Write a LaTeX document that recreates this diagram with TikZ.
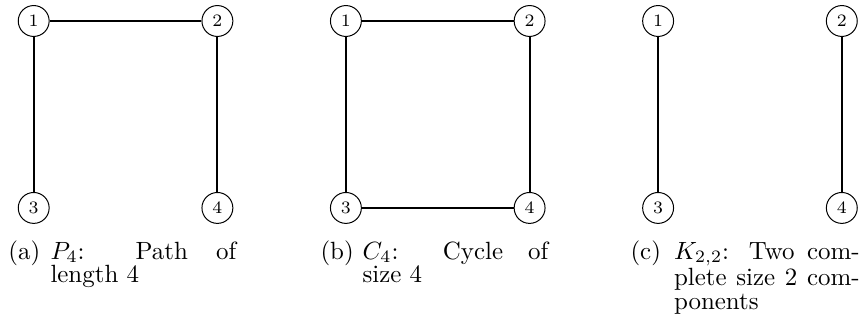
\documentclass[tikz,border=0pt]{standalone}
\usepackage{amsmath}
\usepackage{tikz}
\usetikzlibrary{positioning}

\begin{document}
\begin{tikzpicture}[
    x=0.4012pt, y=-0.4012pt,
    node distance=75.0pt and 73.7pt,
    on grid,
    vertex/.style={
        circle,
        draw=black,
        thin,
        inner sep=0pt,
        minimum size=12.4pt,
        font=\scriptsize
    },
    edge/.style={
        thick,
        draw=black
    },
    sublabel/.style={
        anchor=base west,
        inner sep=0pt,
        font=\fontsize{10pt}{9.6pt}\selectfont
    },
    captext/.style={
        anchor=base west,
        inner sep=0pt,
        text width=74.5pt,
        align=justify,
        font=\fontsize{10pt}{9.6pt}\selectfont
    }
]
\useasboundingbox (0,0) rectangle (860,331);

% (a) path
\node[vertex] (a1) at (33.7,21) {1};
\node[vertex, right=of a1] (a2) {2};
\node[vertex, below=of a1] (a3) {3};
\node[vertex, below=of a2] (a4) {4};

\draw[edge] (a3) -- (a1);
\draw[edge] (a1) -- (a2);
\draw[edge] (a2) -- (a4);

% (b) cycle
\node[vertex] (b1) at (345.9,21) {1};
\node[vertex, right=of b1] (b2) {2};
\node[vertex, below=of b1] (b3) {3};
\node[vertex, below=of b2] (b4) {4};

\draw[edge] (b1) -- (b2);
\draw[edge] (b2) -- (b4);
\draw[edge] (b4) -- (b3);
\draw[edge] (b3) -- (b1);

% (c) two components
\node[vertex] (c1) at (658.1,21) {1};
\node[vertex, right=of c1] (c2) {2};
\node[vertex, below=of c1] (c3) {3};
\node[vertex, below=of c2] (c4) {4};

\draw[edge] (c1) -- (c3);
\draw[edge] (c2) -- (c4);

% Captions
\node[sublabel] (laba) at (8,259) {(a)};
\node[captext] (capa) at (50,259) {$P_4$: Path of\linebreak length 4};

\node[sublabel] (labb) at (320,259) {(b)};
\node[captext] (capb) at (362,259) {$C_4$: Cycle of\linebreak size 4};

\node[sublabel] (labc) at (630,259) {(c)};
\node[captext] (capc) at (673.5,259) {$K_{2,2}$: Two com-\linebreak plete size 2 com-\linebreak ponents};

\end{tikzpicture}
\end{document}
